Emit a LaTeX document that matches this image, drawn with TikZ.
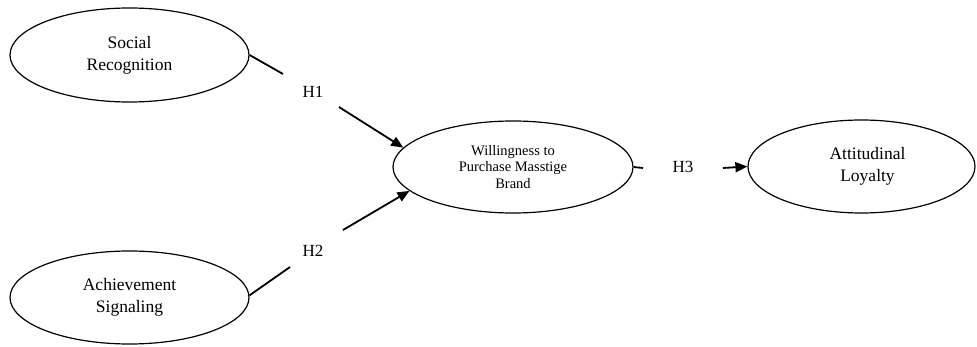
\documentclass[tikz,border=0pt]{standalone}
\usepackage{fontspec}
\setmainfont{Liberation Serif}
\usetikzlibrary{shapes.geometric,arrows.meta}
\tikzset{
  construct/.style={ellipse, draw, line width=1.2pt, inner sep=0pt, align=center},
  bigtext/.style={font=\fontsize{17.5}{22}\selectfont},
  smalltext/.style={font=\fontsize{14.5}{16.5}\selectfont},
  hyp/.style={font=\fontsize{17}{20}\selectfont, inner sep=0pt},
  seg/.style={line width=1.8pt},
  arr/.style={line width=1.8pt, -{Triangle[length=12pt,width=10pt]}}
}
\begin{document}
\begin{tikzpicture}[x=1pt,y=-1pt]
\useasboundingbox (0,0) rectangle (977,347);
\node[construct, bigtext, minimum width=239pt, minimum height=94pt] (sr) at (129.5,55) {Social\\Recognition};
\node[construct, bigtext, minimum width=239pt, minimum height=93pt] (as) at (129.5,297.5) {Achievement\\Signaling};
\node[construct, smalltext, minimum width=240pt, minimum height=92pt] (wp) at (513,167) {Willingness to\\Purchase Masstige\\Brand};
\node[construct, bigtext, minimum width=227pt, minimum height=93pt] (al) at (861.5,166.5) {\hspace*{12pt}Attitudinal\\\hspace*{12pt}Loyalty};
\node[hyp] (h1) at (313,92) {H1};
\node[hyp] (h2) at (313,251) {H2};
\node[hyp] (h3) at (683,167) {H3};
\coordinate (h1a) at (283,74);
\coordinate (h1b) at (339,107);
\coordinate (h2a) at (290,267);
\coordinate (h2b) at (343,230);
\coordinate (h3a) at (643,168);
\coordinate (h3b) at (723,168);
\draw[seg] (sr.east) -- (h1a);
\draw[arr] (h1b) -- (wp.170);
\draw[seg] (as.1) -- (h2a);
\draw[arr] (h2b) -- (wp.193);
\draw[seg] (wp.east) -- (h3a);
\draw[arr] (h3b) -- (al.west);
\end{tikzpicture}
\end{document}
